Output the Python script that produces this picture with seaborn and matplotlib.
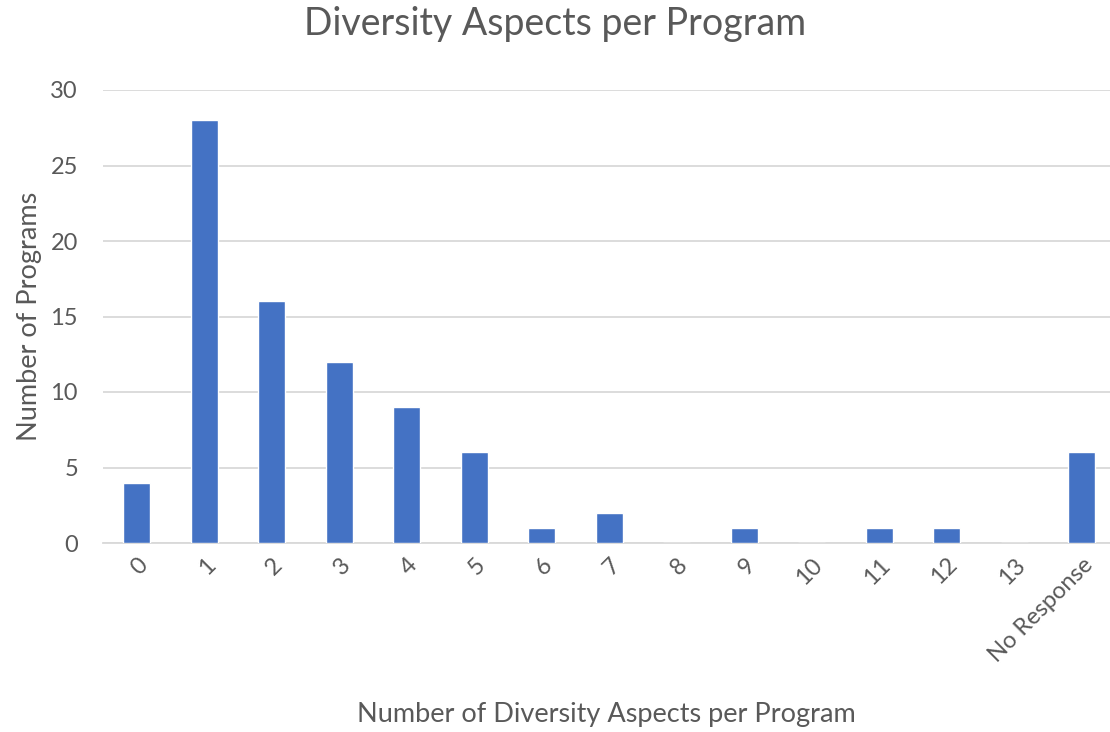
import matplotlib
matplotlib.use('Agg')
import matplotlib.pyplot as plt
import pandas as pd
import seaborn as sns

categories = ['0', '1', '2', '3', '4', '5', '6', '7', '8', '9', '10', '11', '12', '13', 'No Response']
programs = [4, 28, 16, 12, 9, 6, 1, 2, 0, 1, 0, 1, 1, 0, 6]

BAR_COLOR = '#4472C4'
TEXT_COLOR = '#595959'
GRID_COLOR = '#D9D9D9'

sns.set_theme(style='white')
plt.rcParams['font.family'] = ['Lato', 'DejaVu Sans']

df = pd.DataFrame({'aspects': categories, 'programs': programs})

fig = plt.figure(figsize=(11.10, 7.32), dpi=100)
ax = fig.add_axes([103 / 1110, 1 - 543 / 732, 1007 / 1110, (543 - 90) / 732])

sns.barplot(data=df, x='aspects', y='programs', color=BAR_COLOR,
            width=0.4, saturation=1, ax=ax, zorder=3)

ax.set_ylim(0, 30)
ax.set_xlim(-0.5, -0.5 + 1007 / 67.5)
ax.set_yticks(range(0, 31, 5))
ax.yaxis.grid(True, color=GRID_COLOR, linewidth=1.3, zorder=0)
for side in ['top', 'right', 'left']:
    ax.spines[side].set_visible(False)
ax.spines['bottom'].set_color(GRID_COLOR)
ax.spines['bottom'].set_linewidth(1.3)
ax.tick_params(axis='both', length=0, labelsize=17, colors=TEXT_COLOR)
ax.tick_params(axis='y', pad=18)
ax.tick_params(axis='x', pad=8)
plt.setp(ax.get_xticklabels(), rotation=45, ha='right', rotation_mode='anchor')

ax.set_xlabel('Number of Diversity Aspects per Program', fontsize=19.5,
              color=TEXT_COLOR, labelpad=26)
ax.set_ylabel('Number of Programs', fontsize=19.5, color=TEXT_COLOR, labelpad=6)
fig.suptitle('Diversity Aspects per Program', fontsize=27, color=TEXT_COLOR,
             y=1 - 6 / 732, va='top')

plt.savefig('out.png', dpi=100)
plt.close()
